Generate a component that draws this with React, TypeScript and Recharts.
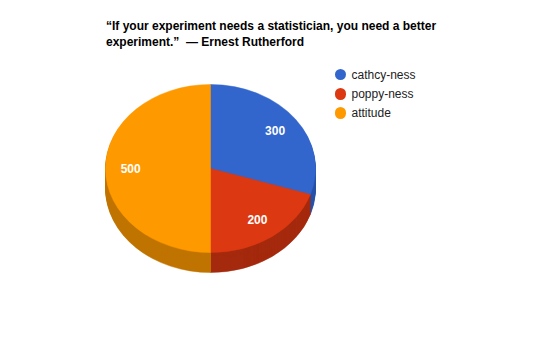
import React from 'react';
import { PieChart, Pie, Cell } from 'recharts';

const categories = ['cathcy-ness', 'poppy-ness', 'attitude'];
const values = [300, 200, 500];
const topColors = ['#3366cc', '#dc3912', '#ff9900'];
const sideColors = ['#2752a8', '#a52a0e', '#c07400'];
const titleLines = [
  '\u201cIf your experiment needs a statistician, you need a better',
  'experiment.\u201d  \u2014 Ernest Rutherford',
];

const data = categories.map((name, i) => ({ name, value: values[i] }));

const Y_RATIO = 0.8;
const DEPTH = 20;
const FONT = '"Liberation Sans", Arial, sans-serif';
const RAD = Math.PI / 180;

function ellipsePath(cx: number, cy: number, r: number, a1: number, a2: number) {
  const rx = r;
  const ry = r * Y_RATIO;
  const x1 = cx + rx * Math.cos(a1 * RAD);
  const y1 = cy - ry * Math.sin(a1 * RAD);
  const x2 = cx + rx * Math.cos(a2 * RAD);
  const y2 = cy - ry * Math.sin(a2 * RAD);
  const large = Math.abs(a2 - a1) > 180 ? 1 : 0;
  const sweep = a1 > a2 ? 1 : 0;
  return `M${cx},${cy} L${x1},${y1} A${rx},${ry} 0 ${large} ${sweep} ${x2},${y2} Z`;
}

const TopShape = (p: any) => (
  <path d={ellipsePath(p.cx, p.cy, p.outerRadius, p.startAngle, p.endAngle)} fill={p.fill} stroke={p.fill} strokeWidth={0.5} />
);

const SideShape = (p: any) => {
  const layers = [];
  for (let d = DEPTH; d >= 1; d--) {
    layers.push(
      <path key={d} d={ellipsePath(p.cx, p.cy + d, p.outerRadius, p.startAngle, p.endAngle)} fill={p.fill} stroke={p.fill} strokeWidth={0.5} />
    );
  }
  return <g>{layers}</g>;
};

const renderLabel = (p: any) => {
  const f = 0.76;
  const x = p.cx + p.outerRadius * f * Math.cos(-p.midAngle * RAD);
  const y = p.cy + p.outerRadius * Y_RATIO * f * Math.sin(-p.midAngle * RAD);
  return (
    <text x={x} y={y} fill="#ffffff" textAnchor="middle" dominantBaseline="central" fontFamily={FONT} fontSize={12} fontWeight="bold">
      {p.value}
    </text>
  );
};

export default function App() {
  return (
    <div style={{ position: 'absolute', left: 0, top: 0, width: 550, height: 357, background: '#ffffff' }}>
      <PieChart width={550} height={357} margin={{ top: 0, right: 0, bottom: 0, left: 0 }}>
        <Pie
          data={data}
          dataKey="value"
          cx={210.5}
          cy={168.5}
          outerRadius={105}
          startAngle={90}
          endAngle={-270}
          isAnimationActive={false}
          shape={SideShape}
          stroke="none"
          label={false}
          labelLine={false}
        >
          {data.map((d, i) => (
            <Cell key={d.name} fill={sideColors[i]} />
          ))}
        </Pie>
        <Pie
          data={data}
          dataKey="value"
          cx={210.5}
          cy={168.5}
          outerRadius={105}
          startAngle={90}
          endAngle={-270}
          isAnimationActive={false}
          shape={TopShape}
          stroke="none"
          label={renderLabel}
          labelLine={false}
        >
          {data.map((d, i) => (
            <Cell key={d.name} fill={topColors[i]} />
          ))}
        </Pie>
      </PieChart>
      <div style={{ position: 'absolute', left: 106, top: 17.5, fontFamily: FONT, fontSize: 12, fontWeight: 'bold', lineHeight: '16px', color: '#000', whiteSpace: 'pre' }}>
        {titleLines.map((t) => (
          <div key={t}>{t}</div>
        ))}
      </div>
      {categories.map((c, i) => (
        <div key={c} style={{ position: 'absolute', left: 334.5, top: 74.5 + i * 19.3 - 8, height: 16, display: 'flex', alignItems: 'center', fontFamily: FONT, fontSize: 12, color: '#222222' }}>
          <span style={{ display: 'inline-block', width: 11.5, height: 11.5, borderRadius: '50%', background: topColors[i], marginRight: 5.5 }} />
          <span>{c}</span>
        </div>
      ))}
    </div>
  );
}
